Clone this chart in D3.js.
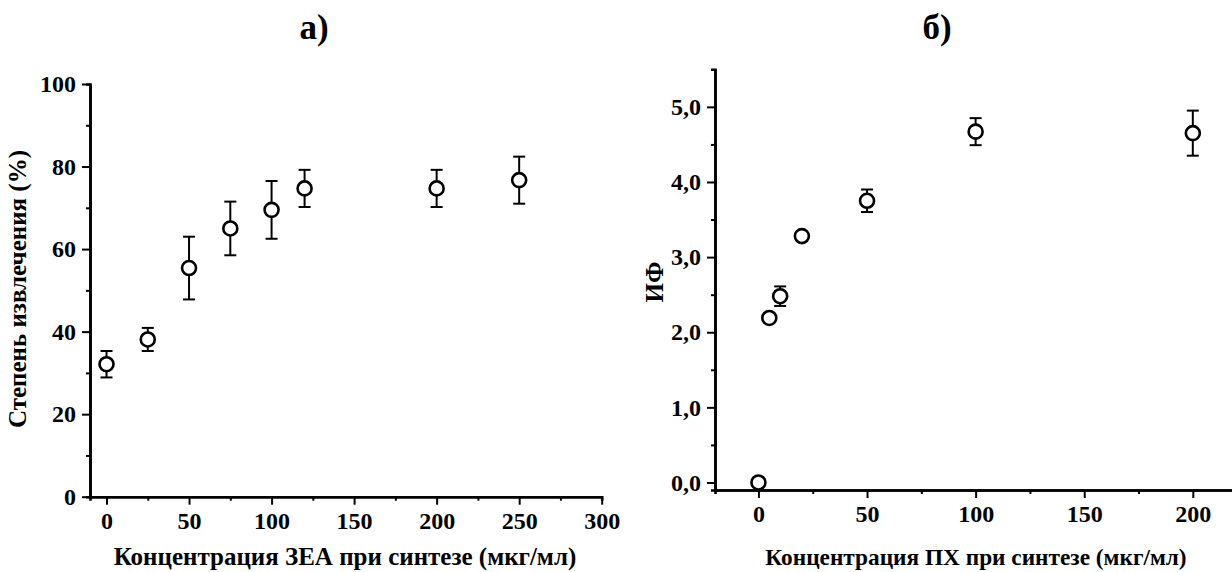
<!DOCTYPE html>
<html>
<head>
<meta charset="utf-8">
<script src="https://cdn.jsdelivr.net/npm/d3@7"></script>
<style>
    body { margin: 0; background: #fff; }
    svg text { font-family: "Liberation Serif", "Times New Roman", serif; font-weight: bold; fill: #000; }
</style>
</head>
<body>
<div id="chart"></div>
<script>
// Panel a) - recovery vs ZEA concentration
const zeaConc = [0, 25, 50, 75, 100, 120, 200, 250];
const zeaRecovery = [32.1, 38.1, 55.4, 65.0, 69.5, 74.7, 74.7, 76.7];
const zeaErr = [3.2, 2.8, 7.6, 6.5, 7.0, 4.5, 4.5, 5.7];
const zeaXTicks = [0, 50, 100, 150, 200, 250, 300];
const zeaYTicks = [0, 20, 40, 60, 80, 100];

// Panel б) - imprinting factor vs PH concentration
const phConc = [0, 5, 10, 20, 50, 100, 200];
const phIF = [0.0, 2.19, 2.48, 3.28, 3.75, 4.67, 4.65];
const phErr = [0, 0, 0.13, 0, 0.15, 0.18, 0.30];
const phXTicks = [0, 50, 100, 150, 200];
const phYTicks = [0, 1, 2, 3, 4, 5];

const width = 1232, height = 572;

const svg = d3.select('#chart')
    .append('svg')
    .attr('width', width)
    .attr('height', height);

function drawPanel(opt) {
    const x = d3.scaleLinear().domain(opt.xDomain).range(opt.xRange);
    const y = d3.scaleLinear().domain(opt.yDomain).range(opt.yRange);
    const g = svg.append('g');

    // minor ticks
    const xAxisMinor = d3.axisBottom(x).tickValues(opt.xMinor).tickSize(4).tickFormat('');
    const yAxisMinor = d3.axisLeft(y).tickValues(opt.yMinor).tickSize(4).tickFormat('');
    g.append('g').attr('transform', `translate(0,${opt.yRange[0]})`).call(xAxisMinor);
    g.append('g').attr('transform', `translate(${opt.xRange[0]},0)`).call(yAxisMinor);

    // major axes
    const xAxis = d3.axisBottom(x).tickValues(opt.xTicks).tickSize(8).tickPadding(7).tickSizeOuter(0);
    const yAxis = d3.axisLeft(y).tickValues(opt.yTicks).tickSize(8).tickPadding(6).tickSizeOuter(0)
        .tickFormat(opt.yFormat);
    const gx = g.append('g').attr('transform', `translate(0,${opt.yRange[0]})`).call(xAxis);
    const gy = g.append('g').attr('transform', `translate(${opt.xRange[0]},0)`).call(yAxis);

    g.selectAll('.domain').attr('stroke', '#000').attr('stroke-width', 2.6);
    g.selectAll('.tick line').attr('stroke', '#000').attr('stroke-width', 2);
    gx.selectAll('text').style('font-size', '24px');
    gy.selectAll('text').style('font-size', '24px');

    const pts = opt.xs.map((v, i) => ({ x: v, y: opt.ys[i], e: opt.errs[i] }));

    // error bars
    const eb = g.append('g').selectAll('g')
        .data(pts.filter(d => d.e > 0))
        .enter()
        .append('g')
        .attr('stroke', '#000')
        .attr('stroke-width', 2);
    eb.append('line')
        .attr('x1', d => x(d.x)).attr('x2', d => x(d.x))
        .attr('y1', d => y(d.y + d.e)).attr('y2', d => y(d.y - d.e));
    eb.append('line')
        .attr('x1', d => x(d.x) - 6).attr('x2', d => x(d.x) + 6)
        .attr('y1', d => y(d.y + d.e)).attr('y2', d => y(d.y + d.e));
    eb.append('line')
        .attr('x1', d => x(d.x) - 6).attr('x2', d => x(d.x) + 6)
        .attr('y1', d => y(d.y - d.e)).attr('y2', d => y(d.y - d.e));

    // markers
    g.append('g').selectAll('circle')
        .data(pts)
        .enter()
        .append('circle')
        .attr('cx', d => x(d.x))
        .attr('cy', d => y(d.y))
        .attr('r', 7)
        .attr('fill', '#fff')
        .attr('stroke', '#000')
        .attr('stroke-width', 2.6);

    // labels
    svg.append('text')
        .attr('x', opt.titleX).attr('y', 39)
        .attr('text-anchor', 'middle')
        .style('font-size', '35px')
        .text(opt.title);
    svg.append('text')
        .attr('x', (opt.xLabelX)).attr('y', 565)
        .attr('text-anchor', 'middle')
        .style('font-size', opt.xLabelSize)
        .text(opt.xLabel);
    svg.append('text')
        .attr('transform', `translate(${opt.yLabelX},${opt.yLabelY}) rotate(-90)`)
        .attr('text-anchor', 'middle')
        .style('font-size', '25px')
        .text(opt.yLabel);
}

drawPanel({
    xs: zeaConc, ys: zeaRecovery, errs: zeaErr,
    xDomain: [-10, 300], xRange: [90, 601.7],
    yDomain: [0, 100], yRange: [496.7, 84],
    xTicks: zeaXTicks, yTicks: zeaYTicks,
    xMinor: [25, 75, 125, 175, 225, 275],
    yMinor: [10, 30, 50, 70, 90],
    yFormat: d3.format('d'),
    title: 'а)', titleX: 314,
    xLabel: 'Концентрация ЗЕА при синтезе (мкг/мл)', xLabelX: 345, xLabelSize: '25px',
    yLabel: 'Степень извлечения (%)', yLabelX: 26, yLabelY: 289
});

drawPanel({
    xs: phConc, ys: phIF, errs: phErr,
    xDomain: [-20, 222], xRange: [715, 1240.6],
    yDomain: [-0.1, 5.5], yRange: [490, 69.3],
    xTicks: phXTicks, yTicks: phYTicks,
    xMinor: [25, 75, 125, 175],
    yMinor: [0.5, 1.5, 2.5, 3.5, 4.5],
    yFormat: d => d3.format('.1f')(d).replace('.', ','),
    title: 'б)', titleX: 937,
    xLabel: 'Концентрация ПХ при синтезе (мкг/мл)', xLabelX: 976, xLabelSize: '23.3px',
    yLabel: 'ИФ', yLabelX: 663, yLabelY: 282
});
</script>
</body>
</html>
